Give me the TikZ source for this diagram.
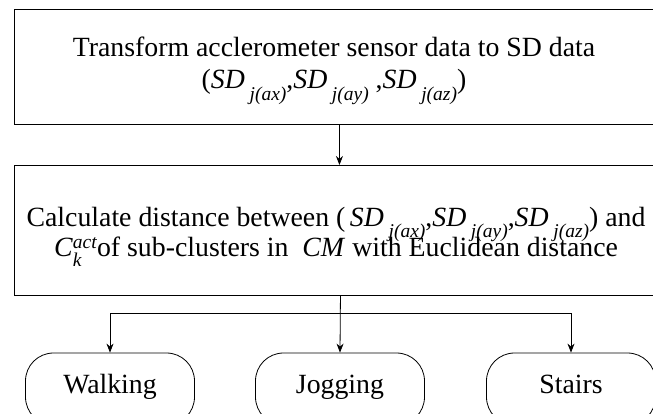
\documentclass[tikz,border=0pt]{standalone}
\usepackage{fontspec}
\setmainfont{Liberation Serif}
\usetikzlibrary{arrows.meta}
\newcommand\subf{\fontsize{19.5}{19.5}\selectfont}
\newcommand\sdsub[1]{\textit{SD}\,\raisebox{-0.42em}{\subf\textit{#1}}}
\newcommand\cka{\textit{C}\makebox[0pt][l]{\raisebox{-0.36em}{\subf\textit{k}}}\raisebox{0.28em}{\subf\textit{act}}}
\begin{document}
\begin{tikzpicture}[x=1pt,y=-1pt,
  font=\fontsize{27.8}{30}\selectfont,
  box/.style={draw, line width=0.9pt, inner sep=0pt},
  term/.style={draw, line width=0.8pt, rounded corners=28pt, minimum width=169pt, minimum height=72pt, inner sep=0pt, text height=19pt, text depth=11pt},
  arr/.style={-{Stealth[length=9pt,width=7pt]}, line width=0.8pt},
  lbl/.style={anchor=base, inner sep=0pt}]
\useasboundingbox (0,0) rectangle (653,414);
\node[box, minimum width=640pt, minimum height=115pt, anchor=north west] (b1) at (14,9) {};
\node[lbl] (t1a) at (334,57) {Transform acclerometer sensor data to SD data};
\node[lbl] (t1b) at (334,89) {(\sdsub{j(ax)},\sdsub{j(ay)} ,\sdsub{j(az)})};
\node[box, minimum width=640pt, minimum height=130pt, anchor=north west] (b2) at (14,165) {};
\node[lbl] (t2a) at (336,226) {Calculate distance between (\,\sdsub{j(ax)},\sdsub{j(ay)},\sdsub{j(az)}) and};
\node[lbl] (t2b) at (336,256) {\cka of sub-clusters in \ \textit{CM} with Euclidean distance};
\node[term] (walk) at (110,389) {Walking};
\node[term] (jog) at (340,389) {Jogging};
\node[term] (stairs) at (571,389) {Stairs};
\coordinate (jn) at (340,313);
\draw[arr] ([xshift=5pt]b1.south) -- ([xshift=5pt]b2.north);
\draw[arr] ([xshift=6pt]b2.south) -- (jog.north);
\draw[arr] (jn) -| (walk.north);
\draw[arr] (jn) -| (stairs.north);
\end{tikzpicture}
\end{document}
